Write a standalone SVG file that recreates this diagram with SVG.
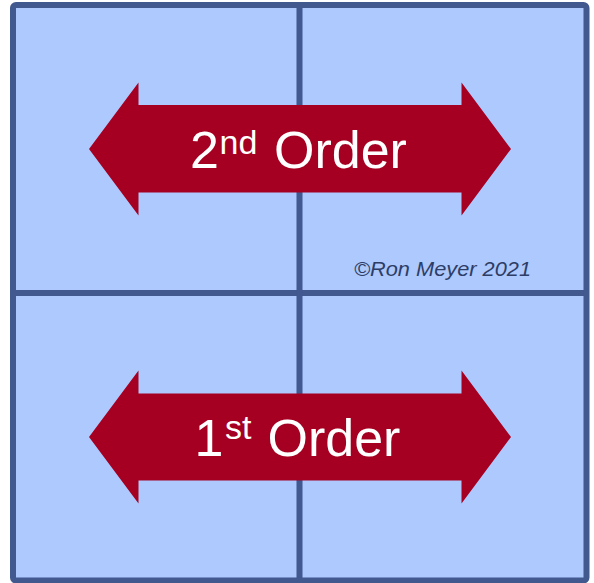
<svg xmlns="http://www.w3.org/2000/svg" width="594" height="583" viewBox="0 0 594 583">
  <defs>
    <style>
      .quad { fill: #adc9fe; }
      .line { stroke: #41598f; stroke-width: 6; fill: none; }
      .arrow { fill: #a50021; }
      .lbl { font-family: "Liberation Sans", Arial, sans-serif; fill: #ffffff; }
      .big { font-size: 52px; }
      .sup { font-size: 34px; }
      .copy { font-family: "Liberation Sans", Arial, sans-serif; font-style: italic; font-size: 21px; fill: #2e3d66; }
    </style>
  </defs>
  <rect x="0" y="0" width="594" height="583" fill="#ffffff"/>
  <rect x="10" y="4" width="578" height="579" rx="4" fill="#000" opacity="0.06"/>
  <g id="quadrants">
    <g id="q-top-left"><rect class="quad" x="13" y="5" width="286.5" height="288"/></g>
    <g id="q-top-right"><rect class="quad" x="299.5" y="5" width="287" height="288"/></g>
    <g id="q-bottom-left"><rect class="quad" x="13" y="293" width="286.5" height="287.5"/></g>
    <g id="q-bottom-right"><rect class="quad" x="299.5" y="293" width="287" height="287.5"/></g>
  </g>
  <g id="grid-lines">
    <line class="line" x1="13" y1="293" x2="586.5" y2="293"/>
    <line class="line" x1="299.5" y1="5" x2="299.5" y2="580.5"/>
    <rect class="line" x="13" y="5" width="573.5" height="575.5" rx="3"/>
  </g>
  <g id="arrow-2nd-order">
    <polygon class="arrow" points="89,149 138.5,82.5 138.5,105 461.5,105 461.5,82.5 511,149 461.5,215.5 461.5,192.5 138.5,192.5 138.5,215.5"/>
    <text class="lbl big" x="190" y="167.7">2</text>
    <text class="lbl sup" x="219.5" y="154.3">nd</text>
    <text class="lbl big" x="274" y="167.7">Order</text>
  </g>
  <g id="arrow-1st-order">
    <polygon class="arrow" points="89,437 138.5,370.5 138.5,393.5 461.5,393.5 461.5,370.5 511,437 461.5,503.5 461.5,480.5 138.5,480.5 138.5,503.5"/>
    <text class="lbl big" x="194.5" y="456">1</text>
    <text class="lbl sup" x="225" y="439.3">st</text>
    <text class="lbl big" x="267.5" y="456">Order</text>
  </g>
  <g id="copyright">
    <text class="copy" x="354" y="276" textLength="177" lengthAdjust="spacingAndGlyphs">©Ron Meyer 2021</text>
  </g>
</svg>
